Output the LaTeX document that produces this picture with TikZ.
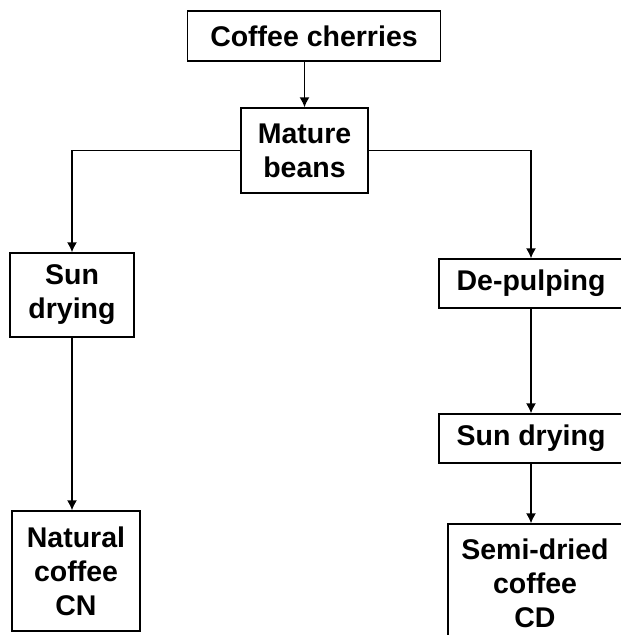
\documentclass[tikz,border=0pt]{standalone}
\usepackage{fontspec}
\setmainfont{Liberation Sans}
\usetikzlibrary{arrows.meta}
\tikzset{stage/.style={draw, line width=1.4pt, align=center, inner sep=2pt, font=\bfseries\fontsize{28.5}{34}\selectfont}}
\newcommand{\stagenode}[5] {\node at (#1) (#2) [stage, minimum width=#3, minimum height=#4] {#5};}
\newcommand{\flowarrow}[2] {\draw [line width=1.4pt, -{Latex[length=10pt,width=10pt]}] (#1) -- (#2);}
\newcommand{\flowelbow}[2] {\draw [line width=1.4pt, -{Latex[length=10pt,width=10pt]}] (#1) -| (#2);}

\begin{document}
\begin{tikzpicture}[x=1pt,y=-1pt]
\useasboundingbox (0,0) rectangle (621,635);
\stagenode {314,36} {cherries} {253pt} {50pt} {Coffee cherries};
\stagenode {304.5,150.5} {mature} {127pt} {85pt} {Mature\\beans};
\stagenode {72,295} {sunl} {124pt} {84pt} {Sun\\drying};
\stagenode {76,571} {natural} {128pt} {120pt} {Natural\\coffee\\CN};
\stagenode {531,283.5} {depulp} {184pt} {49pt} {De-pulping};
\stagenode {531,438.5} {sunr} {184pt} {49pt} {Sun drying};
\stagenode {535,583} {semi} {174pt} {118pt} {Semi-dried\\coffee\\CD};

\flowarrow{cherries.south -| mature.north}{mature.north};
\flowelbow{mature.west}{sunl.north};
\flowelbow{mature.east}{depulp.north};
\flowarrow{sunl.south}{sunl.south |- natural.north};
\flowarrow{depulp.south}{sunr.north};
\flowarrow{sunr.south}{sunr.south |- semi.north};
\end{tikzpicture}
\end{document}
